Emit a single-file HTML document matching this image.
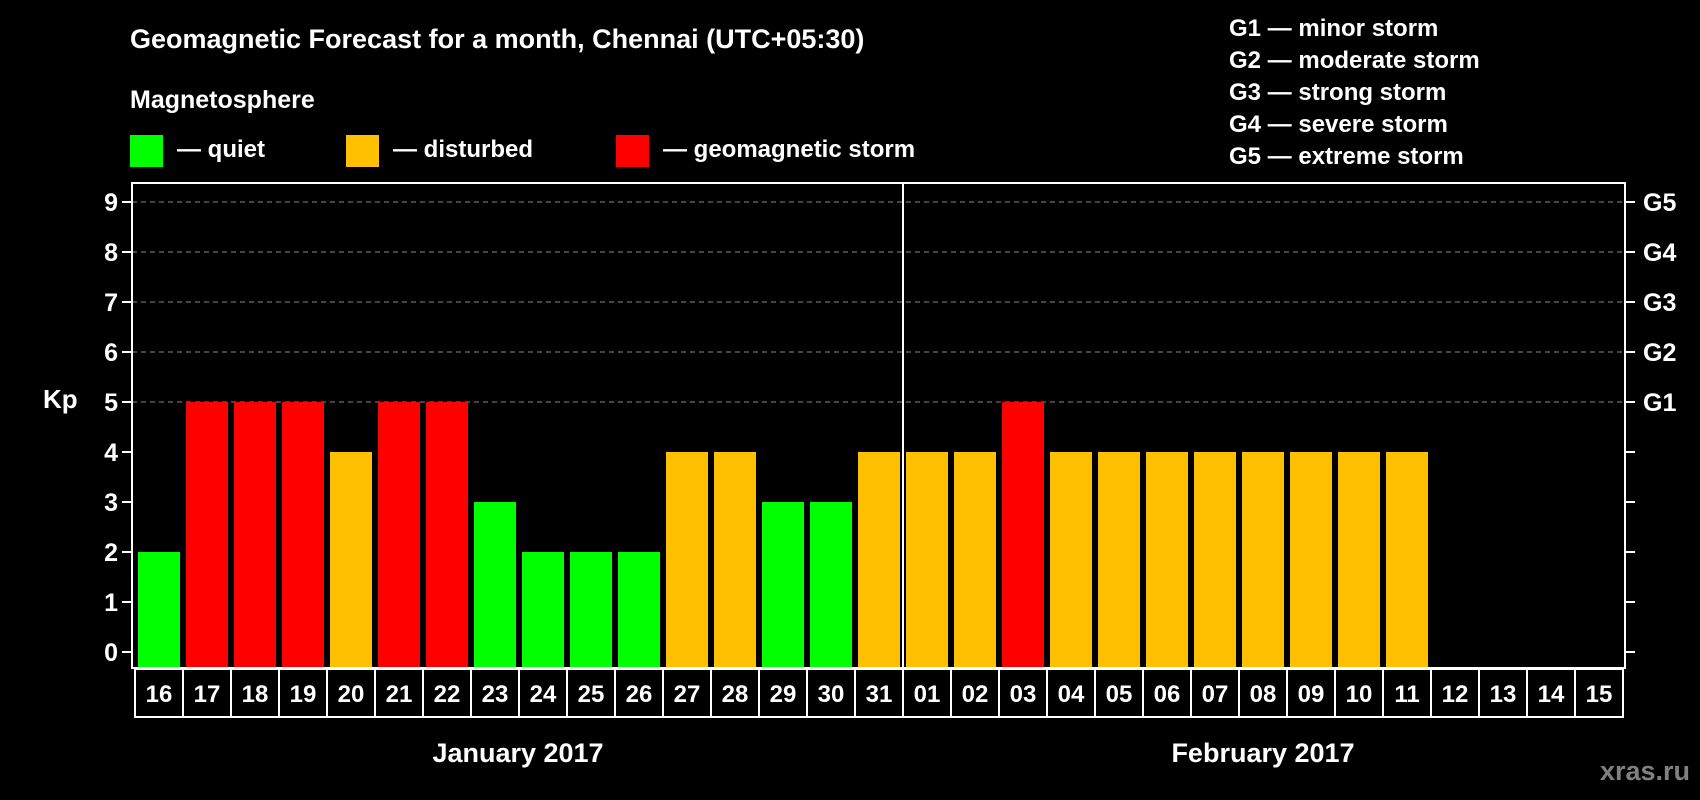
<!DOCTYPE html>
<html><head><meta charset="utf-8"><style>
html,body{margin:0;padding:0;background:#000;}
svg{display:block;font-family:"Liberation Sans",sans-serif;font-weight:bold;}
</style></head><body>
<svg id="chart" width="1700" height="800" viewBox="0 0 1700 800">
<rect width="1700" height="800" fill="#000"/>
<text x="130" y="48" fill="#fff" font-size="27">Geomagnetic Forecast for a month, Chennai (UTC+05:30)</text>
<text x="130" y="108" fill="#fff" font-size="25">Magnetosphere</text>
<g>
<rect x="130" y="135" width="33" height="32" fill="#00ff00"/>
<text x="177" y="157" fill="#fff" font-size="24">— quiet</text>
<rect x="346" y="135" width="33" height="32" fill="#ffc000"/>
<text x="393" y="157" fill="#fff" font-size="24">— disturbed</text>
<rect x="616" y="135" width="33" height="32" fill="#ff0000"/>
<text x="663" y="157" fill="#fff" font-size="24">— geomagnetic storm</text>
</g>
<g fill="#fff" font-size="24">
<text x="1229" y="36">G1 — minor storm</text>
<text x="1229" y="68">G2 — moderate storm</text>
<text x="1229" y="100">G3 — strong storm</text>
<text x="1229" y="132">G4 — severe storm</text>
<text x="1229" y="164">G5 — extreme storm</text>
</g>
<text x="43" y="408" fill="#fff" font-size="26">Kp</text>
<g id="grid"></g><g id="bars"></g><g id="axes"></g>
<text x="518" y="762" fill="#fff" font-size="27" text-anchor="middle">January 2017</text>
<text x="1263" y="762" fill="#fff" font-size="27" text-anchor="middle">February 2017</text>
<text x="1690" y="780" fill="#808080" font-size="27" text-anchor="end">xras.ru</text>
</svg>
<script>
const days=["16","17","18","19","20","21","22","23","24","25","26","27","28","29","30","31","01","02","03","04","05","06","07","08","09","10","11","12","13","14","15"];
const kpValues=[2,5,5,5,4,5,5,3,2,2,2,4,4,3,3,4,4,4,5,4,4,4,4,4,4,4,4,null,null,null,null];
const yTicks=[0,1,2,3,4,5,6,7,8,9];
const gLabels=[[5,"G1"],[6,"G2"],[7,"G3"],[8,"G4"],[9,"G5"]];
const NS="http://www.w3.org/2000/svg";
const X0=135,CW=48,Y0=652,UH=50,TOP=183,AX=668,LEFT=132,RIGHT=1625;
const xs=i=>X0+i*CW, ys=v=>Y0-v*UH;
function mk(p,t,a){const e=document.createElementNS(NS,t);for(const k in a)e.setAttribute(k,a[k]);p.appendChild(e);return e;}
const grid=document.getElementById('grid'),bars=document.getElementById('bars'),axes=document.getElementById('axes');
yTicks.forEach(v=>{
  if(v>=5){const l=mk(grid,'line',{x1:LEFT,x2:RIGHT,y1:ys(v),y2:ys(v),stroke:'#888','stroke-width':1,'stroke-dasharray':'5,4'});
  
  }
  const t=mk(axes,'line',{x1:LEFT-10,x2:LEFT,y1:ys(v),y2:ys(v),stroke:'#fff','stroke-width':2});
  
  
  const t2=mk(axes,'line',{x1:RIGHT,x2:RIGHT+10,y1:ys(v),y2:ys(v),stroke:'#fff','stroke-width':2});
  
  
  const tx=mk(axes,'text',{x:LEFT-14,y:ys(v)+9,fill:'#fff','font-size':25,'text-anchor':'end'});tx.textContent=v;
  
  
});
gLabels.forEach(g=>{const tx=mk(axes,'text',{x:RIGHT+18,y:ys(g[0])+9,fill:'#fff','font-size':25});tx.textContent=g[1];
  
  });
kpValues.forEach((v,i)=>{
  if(v!==null){const c=v>=5?'#ff0000':(v>=4?'#ffc000':'#00ff00');
  const r=mk(bars,'rect',{x:xs(i)+3,y:ys(v),width:42,height:AX-ys(v),fill:c});
  
  }
  const b=mk(axes,'rect',{x:xs(i),y:AX+1,width:CW,height:48,fill:'none',stroke:'#fff','stroke-width':2});
  
  
  const tx=mk(axes,'text',{x:xs(i)+CW/2,y:AX+34,fill:'#fff','font-size':24,'text-anchor':'middle'});tx.textContent=days[i];
  
  
});
const fr=mk(axes,'path',{d:`M${LEFT} ${AX} V${TOP} H${RIGHT} V${AX} Z`,fill:'none',stroke:'#fff','stroke-width':2});


const sep=mk(axes,'line',{x1:xs(16),x2:xs(16),y1:TOP,y2:AX,stroke:'#fff','stroke-width':2});


</script>
</body></html>
